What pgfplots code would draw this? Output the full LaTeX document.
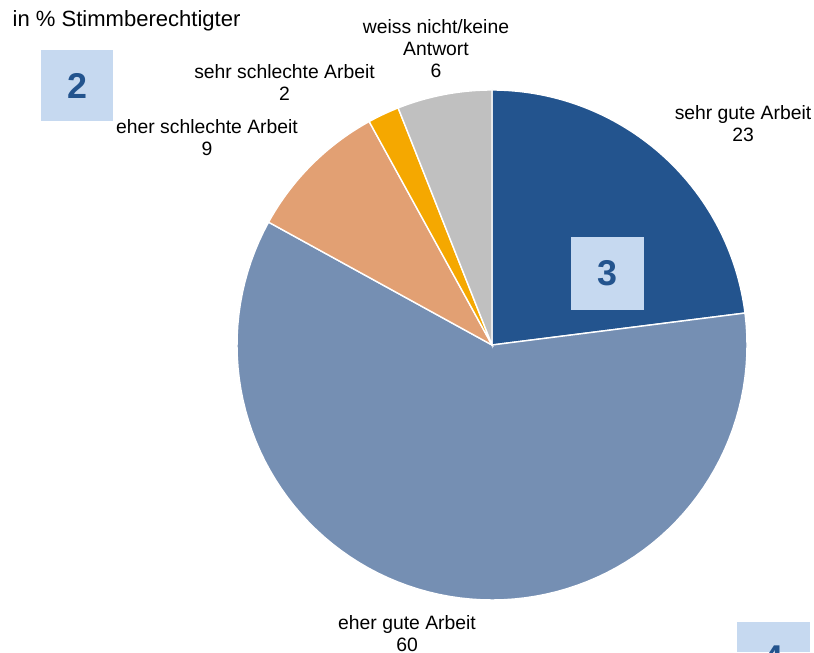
\documentclass[border=0pt]{standalone}
\usepackage{pgfplots}
\pgfplotsset{compat=1.18}
\usepackage{fontspec}
\setmainfont{Liberation Sans}
\definecolor{cA}{HTML}{23548E}
\definecolor{cB}{HTML}{758FB3}
\definecolor{cC}{HTML}{E2A073}
\definecolor{cD}{HTML}{F5A800}
\definecolor{cE}{HTML}{C0C0C0}
\definecolor{boxfill}{HTML}{C6D9F0}
\definecolor{boxtext}{HTML}{23548E}
% values (percent)
\def\valA{23}% sehr gute Arbeit
\def\valB{60}% eher gute Arbeit
\def\valC{9}%  eher schlechte Arbeit
\def\valD{2}%  sehr schlechte Arbeit
\def\valE{6}%  weiss nicht/keine Antwort
\begin{document}%
\begin{tikzpicture}
\pgfmathsetmacro\aZ{90}
\pgfmathsetmacro\aA{\aZ-3.6*\valA}
\pgfmathsetmacro\aB{\aA-3.6*\valB}
\pgfmathsetmacro\aC{\aB-3.6*\valC}
\pgfmathsetmacro\aD{\aC-3.6*\valD}
\pgfmathsetmacro\aE{\aD-3.6*\valE}
\begin{axis}[
  width=8.14cm, height=6.52cm, scale only axis,
  at={(0,0)}, anchor=south west,
  xmin=0, xmax=814, ymin=0, ymax=652,
  hide axis, clip=true,
]
\pgfplotsset{slice/.style={draw=white, line width=0.4pt, samples=90, no markers}}
\tikzset{lab/.style={font=\fontsize{5.5}{6.26}\selectfont, align=center, inner sep=0pt},
         boxnum/.style={text=boxtext, font=\fontsize{10.2}{12}\selectfont\bfseries}}
\addplot[slice, fill=cA, domain=\aA:\aZ] ({492+255*cos(x)}, {307+255*sin(x)}) -- (axis cs:492,307) -- cycle;
\addplot[slice, fill=cB, domain=\aB:\aA] ({492+255*cos(x)}, {307+255*sin(x)}) -- (axis cs:492,307) -- cycle;
\addplot[slice, fill=cC, domain=\aC:\aB] ({492+255*cos(x)}, {307+255*sin(x)}) -- (axis cs:492,307) -- cycle;
\addplot[slice, fill=cD, domain=\aD:\aC] ({492+255*cos(x)}, {307+255*sin(x)}) -- (axis cs:492,307) -- cycle;
\addplot[slice, fill=cE, domain=\aE:\aD] ({492+255*cos(x)}, {307+255*sin(x)}) -- (axis cs:492,307) -- cycle;

% labels
\node[lab] at (axis cs:436,603.5) {weiss nicht/keine\\Antwort\\6};
\node[lab] at (axis cs:284.5,569) {sehr schlechte Arbeit\\2};
\node[lab] at (axis cs:207,514.5) {eher schlechte Arbeit\\9};
\node[lab] at (axis cs:743,528.5) {sehr gute Arbeit\\23};
\node[lab] at (axis cs:407,18) {eher gute Arbeit\\60};
\node[anchor=west, inner sep=0pt, font=\fontsize{6.27}{7}\selectfont] at (axis cs:12,631) {in \% Stimmberechtigter};

% numbered boxes
\fill[boxfill] (axis cs:41,531) rectangle (axis cs:113,602);
\node[boxnum] at (axis cs:77,566.5) {2};
\fill[boxfill] (axis cs:571,342) rectangle (axis cs:644,415);
\node[boxnum] at (axis cs:607.5,378.5) {3};
\fill[boxfill] (axis cs:737,0) rectangle (axis cs:810,30);
\begin{scope}
\clip (axis cs:0,0) rectangle (axis cs:814,652);
\node[boxnum] at (axis cs:773.5,-6) {4};
\end{scope}
\end{axis}
\pgfresetboundingbox
\path (0,0) rectangle (8.14cm,6.52cm);
\end{tikzpicture}%
\end{document}
